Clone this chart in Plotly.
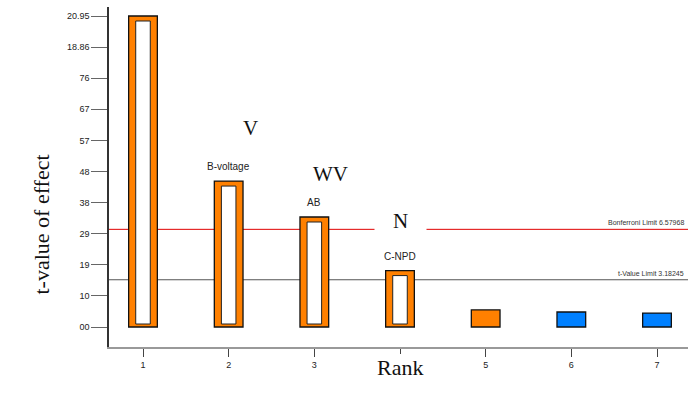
import plotly.graph_objects as go

# Pareto of effects: rank vs t-value
ranks = [1, 2, 3, 4, 5, 6, 7]
t_values = [20.95, 9.83, 7.41, 3.80, 1.15, 1.01, 0.94]
bar_colors = ["#FF8000", "#FF8000", "#FF8000", "#FF8000", "#FF8000", "#0080FF", "#0080FF"]
hollow = [True, True, True, True, False, False, False]
effect_labels = ["", "B-voltage", "AB", "C-NPD", "", "", ""]

bonferroni_limit = 6.57968
t_value_limit = 3.18245

y_tickvals = [0.00, 2.095, 4.19, 6.285, 8.38, 10.475, 12.57, 14.665, 16.76, 18.86, 20.95]
y_ticktext = ["00", "10", "19", "29", "38", "48", "57", "67", "76", "18.86", "20.95"]
x_tickvals = [1, 2, 3, 5, 6, 7]
x_ticktext = ["1", "2", "3", "5", "6", "7"]

# plot-area geometry (pixels)
W, H = 688, 397
L, R, T, B = 109, 0, 7, 50
px_per_unit = 311 / 20.95

fig = go.Figure()

# outer bars
fig.add_trace(go.Bar(
    x=ranks, y=t_values, width=0.335,
    marker=dict(color=bar_colors, line=dict(color="#111111", width=1.3)),
    hoverinfo="skip", showlegend=False,
))

# white cores for hollow bars
top_inset = 5 / px_per_unit
bottom_inset = 3 / px_per_unit
core_x = [r for r, h in zip(ranks, hollow) if h]
core_base = [bottom_inset for h in hollow if h]
core_h = [v - top_inset - bottom_inset for v, h in zip(t_values, hollow) if h]
fig.add_trace(go.Bar(
    x=core_x, y=core_h, base=core_base, width=0.17,
    marker=dict(color="white", line=dict(color="#222222", width=1)),
    hoverinfo="skip", showlegend=False,
))

# limit lines
fig.add_shape(type="line", xref="paper", x0=0, x1=1, yref="y",
              y0=bonferroni_limit, y1=bonferroni_limit,
              line=dict(color="#E00000", width=1), layer="below")
fig.add_shape(type="line", xref="paper", x0=0, x1=1, yref="y",
              y0=t_value_limit, y1=t_value_limit,
              line=dict(color="#555555", width=1.2), layer="below")

ann = []
serif = "Liberation Serif, Times New Roman, serif"
sans = "Liberation Sans, Arial, sans-serif"

# factor letters
ann.append(dict(x=4, y=7.14, text="N", showarrow=False, bgcolor="white",
                borderpad=18, font=dict(family=serif, size=21, color="#111")))
ann.append(dict(x=2.249, y=13.4, text="V", showarrow=False,
                font=dict(family=serif, size=21, color="#111")))
ann.append(dict(x=3.194, y=10.31, text="WV", showarrow=False,
                font=dict(family=serif, size=21, color="#111")))

# effect names above bars
for r, v, lab in zip(ranks, t_values, effect_labels):
    if lab:
        ann.append(dict(x=r, y=v, text=lab, showarrow=False, yanchor="bottom",
                        yshift=7, font=dict(family=sans, size=10, color="#222")))

# limit captions, right-aligned at the plot's right edge
cap_x = (686 - L) / (W - L)
ann.append(dict(xref="paper", x=cap_x, y=bonferroni_limit,
                text=f"Bonferroni Limit {bonferroni_limit}", showarrow=False,
                xanchor="right", yanchor="bottom", yshift=1,
                font=dict(family=sans, size=7, color="#333")))
ann.append(dict(xref="paper", x=cap_x, y=t_value_limit,
                text=f"t-Value Limit {t_value_limit}", showarrow=False,
                xanchor="right", yanchor="bottom", yshift=1,
                font=dict(family=sans, size=7, color="#333")))

# axis titles
ph = H - T - B
ann.append(dict(xref="paper", yref="paper", x=(27 - L) / (W - L), y=(H - B - 225) / ph,
                text="t-value of effect", textangle=-90, showarrow=False,
                font=dict(family=serif, size=22, color="#111")))
ann.append(dict(xref="paper", yref="paper", x=(400 - L) / (W - L), y=(H - B - 382) / ph,
                text="Rank", showarrow=False,
                font=dict(family=serif, size=22, color="#111")))

x0 = 1 - (143 - L) / 85.67
x1 = 7 + (W - 657) / 85.67
y0 = -(347 - 327) / px_per_unit
y1 = (327 - 7) / px_per_unit

fig.update_layout(
    width=W, height=H,
    margin=dict(l=L, r=R, t=T, b=B),
    paper_bgcolor="white", plot_bgcolor="white",
    barmode="overlay",
    annotations=ann,
    xaxis=dict(range=[x0, x1], tickvals=x_tickvals, ticktext=x_ticktext,
               ticks="outside", ticklen=8, tickcolor="#444", tickwidth=1,
               showline=True, linecolor="#999999", linewidth=2,
               showgrid=False, zeroline=False,
               tickfont=dict(family=sans, size=9, color="#222"),
               minor=dict(tickvals=[4], ticks="outside", ticklen=5, tickcolor="#444")),
    yaxis=dict(range=[y0, y1], tickvals=y_tickvals, ticktext=y_ticktext,
               ticks="outside", ticklen=16, tickcolor="#666", tickwidth=1,
               showline=True, linecolor="#333333", linewidth=1.5,
               showgrid=False, zeroline=False,
               tickfont=dict(family=sans, size=9, color="#222")),
)

fig.write_html("out.html")
